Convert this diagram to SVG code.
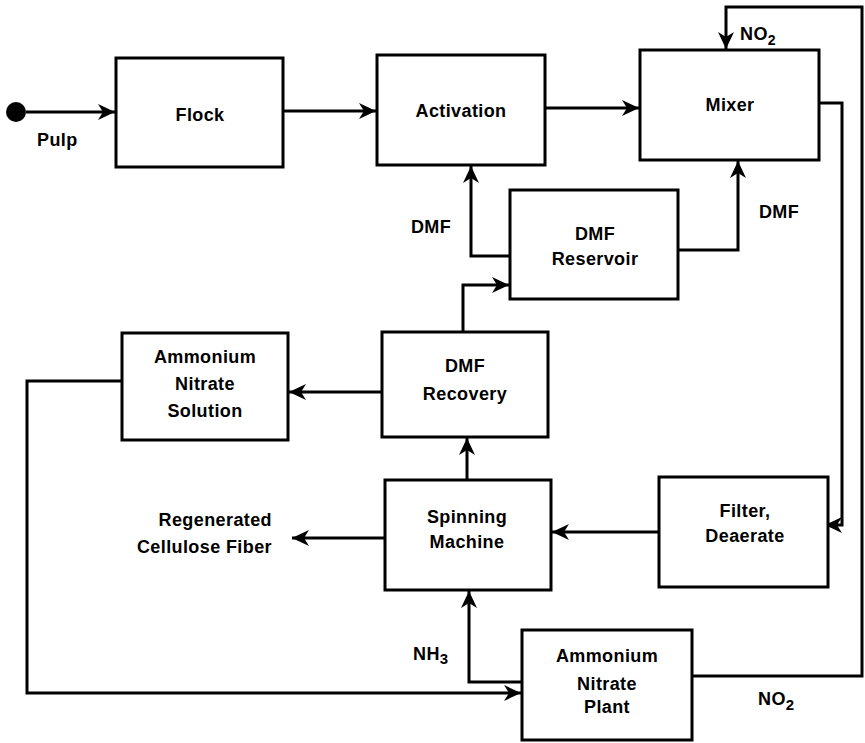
<svg xmlns="http://www.w3.org/2000/svg" width="865" height="743" viewBox="0 0 865 743">
<style>
  .box { fill: #fff; stroke: #000; stroke-width: 3; }
  .t { font-family: "Liberation Sans", Arial, sans-serif; font-weight: bold; font-size: 18px; letter-spacing: 0.4px; fill: #000; text-anchor: middle; }
  .l { font-family: "Liberation Sans", Arial, sans-serif; font-weight: bold; font-size: 18px; letter-spacing: 0.4px; fill: #000; }
  .c { fill: none; stroke: #000; stroke-width: 3; stroke-linejoin: miter; }
</style>
<defs>
  <marker id="arr" markerUnits="userSpaceOnUse" markerWidth="18" markerHeight="16" refX="17" refY="8" orient="auto">
    <path d="M0,0 L17,8 L0,16 L5,8 Z" fill="#000"/>
  </marker>
</defs>
<rect width="865" height="743" fill="#fff"/>

<g id="connectors">
  <circle cx="16" cy="112" r="10" fill="#000"/>
  <path class="c" d="M26,112 H115" marker-end="url(#arr)"/>
  <path class="c" d="M283,111 H376" marker-end="url(#arr)"/>
  <path class="c" d="M545,108 H639" marker-end="url(#arr)"/>
  <path class="c" d="M692,676 H862 V7 H726 V49" marker-end="url(#arr)"/>
  <path class="c" d="M819,103 H842 V525 H825" marker-end="url(#arr)"/>
  <path class="c" d="M678,250 H738 V161" marker-end="url(#arr)"/>
  <path class="c" d="M510,256 H471 V166" marker-end="url(#arr)"/>
  <path class="c" d="M463,332 V285 H509" marker-end="url(#arr)"/>
  <path class="c" d="M467,480 V438" marker-end="url(#arr)"/>
  <path class="c" d="M659,532 H552" marker-end="url(#arr)"/>
  <path class="c" d="M385,538 H292" marker-end="url(#arr)"/>
  <path class="c" d="M382,392 H289" marker-end="url(#arr)"/>
  <path class="c" d="M122,381 H27 V693 H521" marker-end="url(#arr)"/>
  <path class="c" d="M522,682 H469 V591" marker-end="url(#arr)"/>
</g>

<g id="labels">
  <text class="l" x="37" y="146">Pulp</text>
  <text class="l" x="740" y="40">NO<tspan font-size="14" dy="5">2</tspan></text>
  <text class="t" x="431" y="233">DMF</text>
  <text class="t" x="779" y="218">DMF</text>
  <text class="l" x="272" y="526" text-anchor="end">Regenerated</text>
  <text class="l" x="272" y="553" text-anchor="end">Cellulose Fiber</text>
  <text class="l" x="413" y="660">NH<tspan font-size="15" dy="4">3</tspan></text>
  <text class="l" x="758" y="705">NO<tspan font-size="15" dy="5">2</tspan></text>
</g>

<g id="flock">
  <rect class="box" x="116" y="58" width="167" height="109"/>
  <text class="t" x="200" y="121">Flock</text>
</g>
<g id="activation">
  <rect class="box" x="377" y="55" width="168" height="110"/>
  <text class="t" x="461" y="117">Activation</text>
</g>
<g id="mixer">
  <rect class="box" x="640" y="50" width="179" height="110"/>
  <text class="t" x="730" y="111">Mixer</text>
</g>
<g id="dmf-reservoir">
  <rect class="box" x="510" y="190" width="168" height="109"/>
  <text class="t" x="595" y="240">DMF</text>
  <text class="t" x="595" y="265">Reservoir</text>
</g>
<g id="dmf-recovery">
  <rect class="box" x="382" y="332" width="166" height="105"/>
  <text class="t" x="465" y="372">DMF</text>
  <text class="t" x="465" y="400">Recovery</text>
</g>
<g id="ammonium-nitrate-solution">
  <rect class="box" x="122" y="333" width="166" height="107"/>
  <text class="t" x="205" y="363">Ammonium</text>
  <text class="t" x="205" y="390">Nitrate</text>
  <text class="t" x="205" y="417">Solution</text>
</g>
<g id="spinning-machine">
  <rect class="box" x="385" y="480" width="166" height="110"/>
  <text class="t" x="467" y="523">Spinning</text>
  <text class="t" x="467" y="548">Machine</text>
</g>
<g id="filter-deaerate">
  <rect class="box" x="659" y="477" width="169" height="110"/>
  <text class="t" x="745" y="517">Filter,</text>
  <text class="t" x="745" y="542">Deaerate</text>
</g>
<g id="ammonium-nitrate-plant">
  <rect class="box" x="522" y="630" width="170" height="110"/>
  <text class="t" x="607" y="662">Ammonium</text>
  <text class="t" x="607" y="690">Nitrate</text>
  <text class="t" x="607" y="713">Plant</text>
</g>
</svg>
